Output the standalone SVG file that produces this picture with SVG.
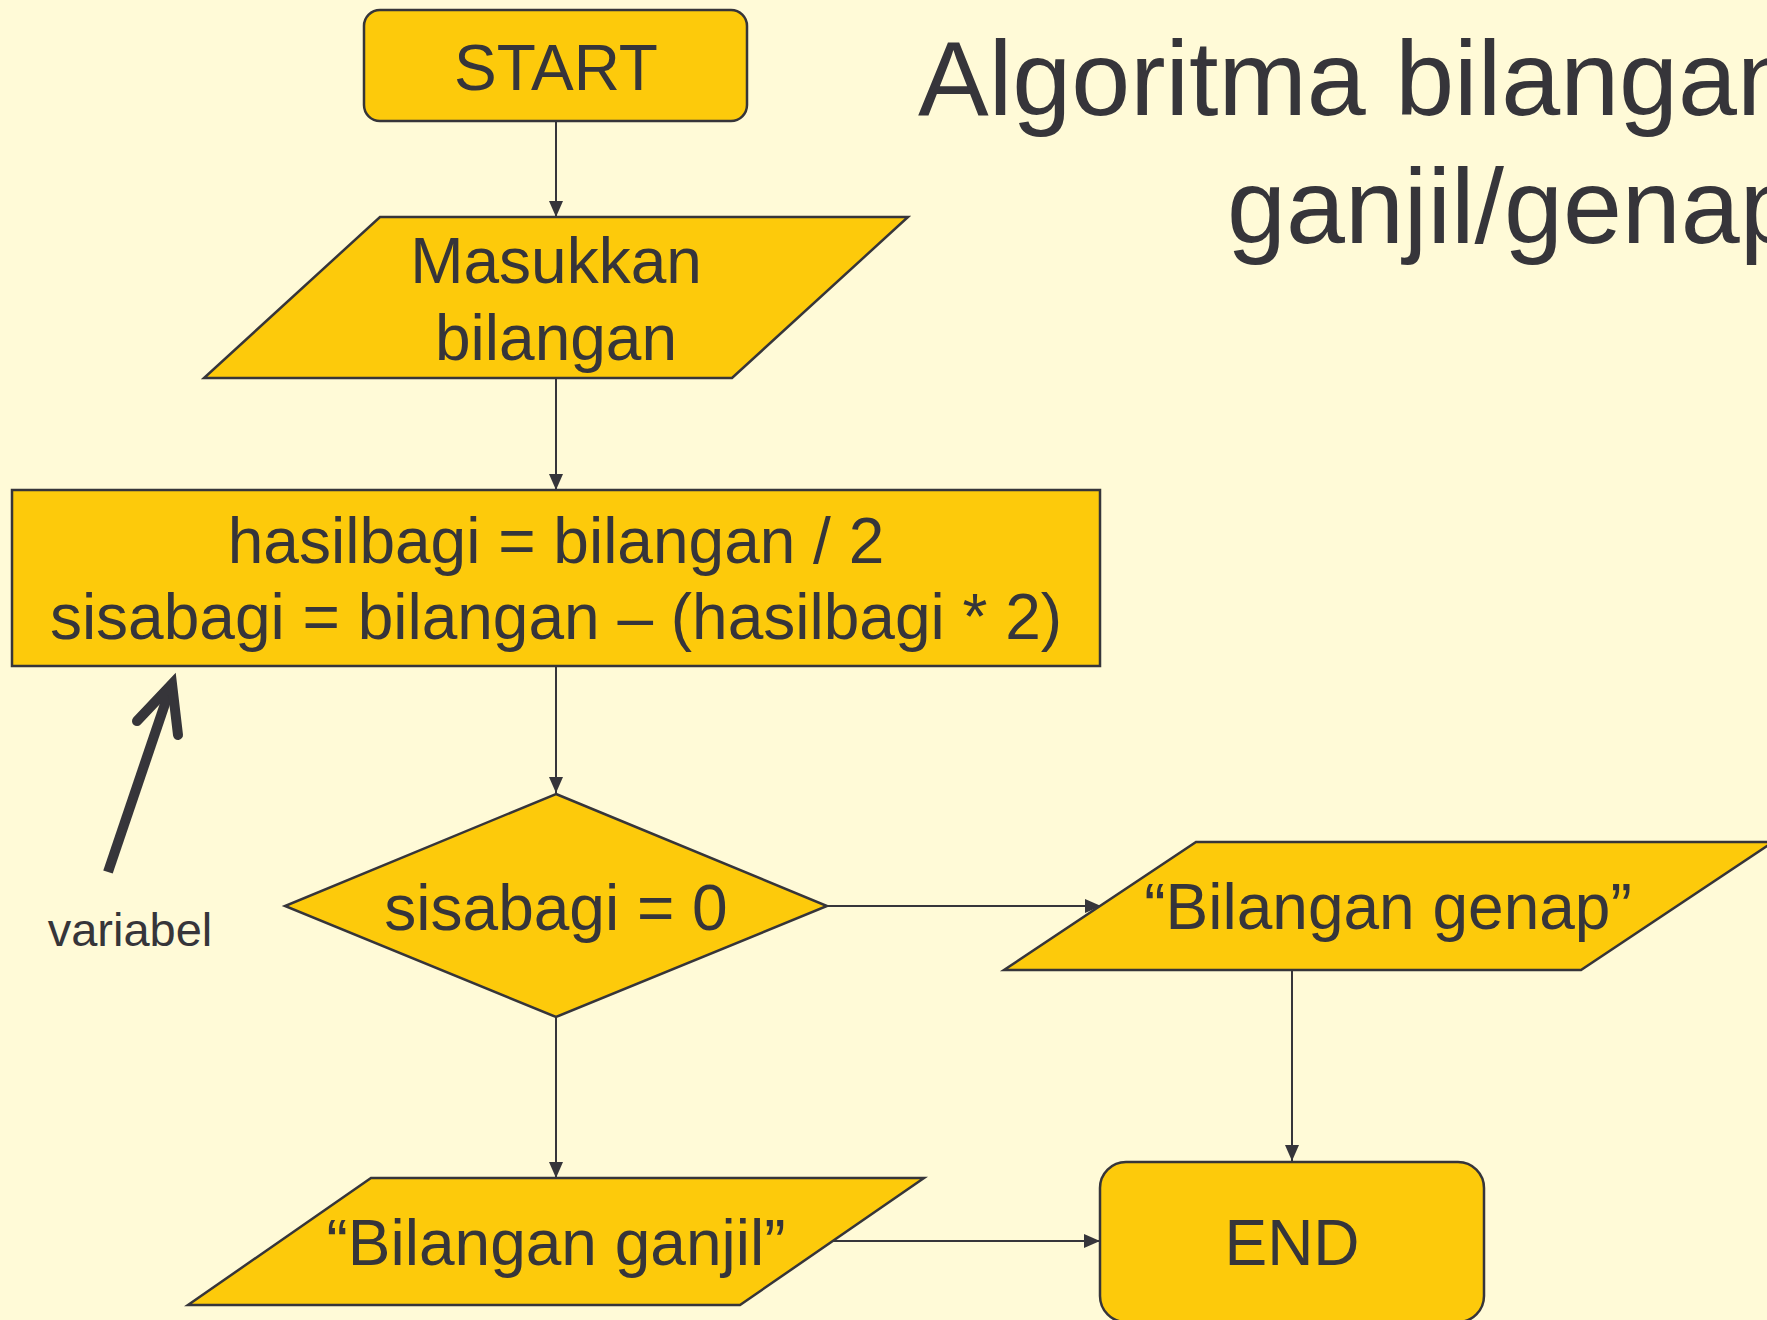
<svg xmlns="http://www.w3.org/2000/svg" width="1767" height="1320" viewBox="0 0 1767 1320">
<defs>
<style>
.node{fill:#FDCA0B;stroke:#36353A;stroke-width:2.5}
.t{font-family:"Liberation Sans",Arial,sans-serif;fill:#36353A;text-anchor:middle;font-size:64px}
.title{font-family:"Liberation Sans",Arial,sans-serif;fill:#36353A;font-size:106px}
.conn{stroke:#36353A;stroke-width:2;fill:none}
</style>
<marker id="ah" viewBox="0 0 16 16" refX="16" refY="8" markerWidth="16" markerHeight="16" markerUnits="userSpaceOnUse" orient="auto">
<path d="M0,1 L16,8 L0,15 Z" fill="#36353A"/>
</marker>
</defs>
<rect width="1767" height="1320" fill="#FFFAD7"/>
<g id="title">
<text class="title" x="918" y="115">Algoritma bilangan</text>
<text class="title" x="1227" y="243">ganjil/genap</text>
</g>
<g id="connectors">
<line class="conn" x1="556" y1="121" x2="556" y2="217" marker-end="url(#ah)"/>
<line class="conn" x1="556" y1="378" x2="556" y2="490" marker-end="url(#ah)"/>
<line class="conn" x1="556" y1="666" x2="556" y2="793" marker-end="url(#ah)"/>
<line class="conn" x1="827" y1="906" x2="1101" y2="906" marker-end="url(#ah)"/>
<line class="conn" x1="556" y1="1017" x2="556" y2="1178" marker-end="url(#ah)"/>
<line class="conn" x1="1292" y1="970" x2="1292" y2="1161" marker-end="url(#ah)"/>
<line class="conn" x1="832" y1="1241" x2="1100" y2="1241" marker-end="url(#ah)"/>
</g>
<g id="start">
<rect class="node" x="364" y="10" width="383" height="111" rx="16"/>
<text class="t" x="556" y="90">START</text>
</g>
<g id="input">
<polygon class="node" points="380,217 908,217 732,378 204,378"/>
<text class="t" x="556" y="283">Masukkan</text>
<text class="t" x="556" y="360">bilangan</text>
</g>
<g id="process">
<rect class="node" x="12" y="490" width="1088" height="176"/>
<text class="t" x="556" y="563">hasilbagi = bilangan / 2</text>
<text class="t" x="556" y="639">sisabagi = bilangan – (hasilbagi * 2)</text>
</g>
<g id="decision">
<polygon class="node" points="556,794 827,906 556,1017 285,906"/>
<text class="t" x="556" y="930">sisabagi = 0</text>
</g>
<g id="genap">
<polygon class="node" points="1196,842 1773,842 1581,970 1004,970"/>
<text class="t" x="1388" y="929">“Bilangan genap”</text>
</g>
<g id="ganjil">
<polygon class="node" points="371,1178 924,1178 740,1305 188,1305"/>
<text class="t" x="556" y="1265">“Bilangan ganjil”</text>
</g>
<g id="end">
<rect class="node" x="1100" y="1162" width="384" height="160" rx="26"/>
<text class="t" x="1292" y="1265">END</text>
</g>
<g id="variabel">
<line x1="108" y1="872" x2="169" y2="692" stroke="#36353A" stroke-width="10"/>
<polyline points="137,721 172,684 178,735" fill="none" stroke="#36353A" stroke-width="10" stroke-linecap="round" stroke-linejoin="miter"/>
<text x="130" y="946" font-family="'Liberation Sans',Arial,sans-serif" font-size="47" fill="#36353A" text-anchor="middle">variabel</text>
</g>
</svg>
